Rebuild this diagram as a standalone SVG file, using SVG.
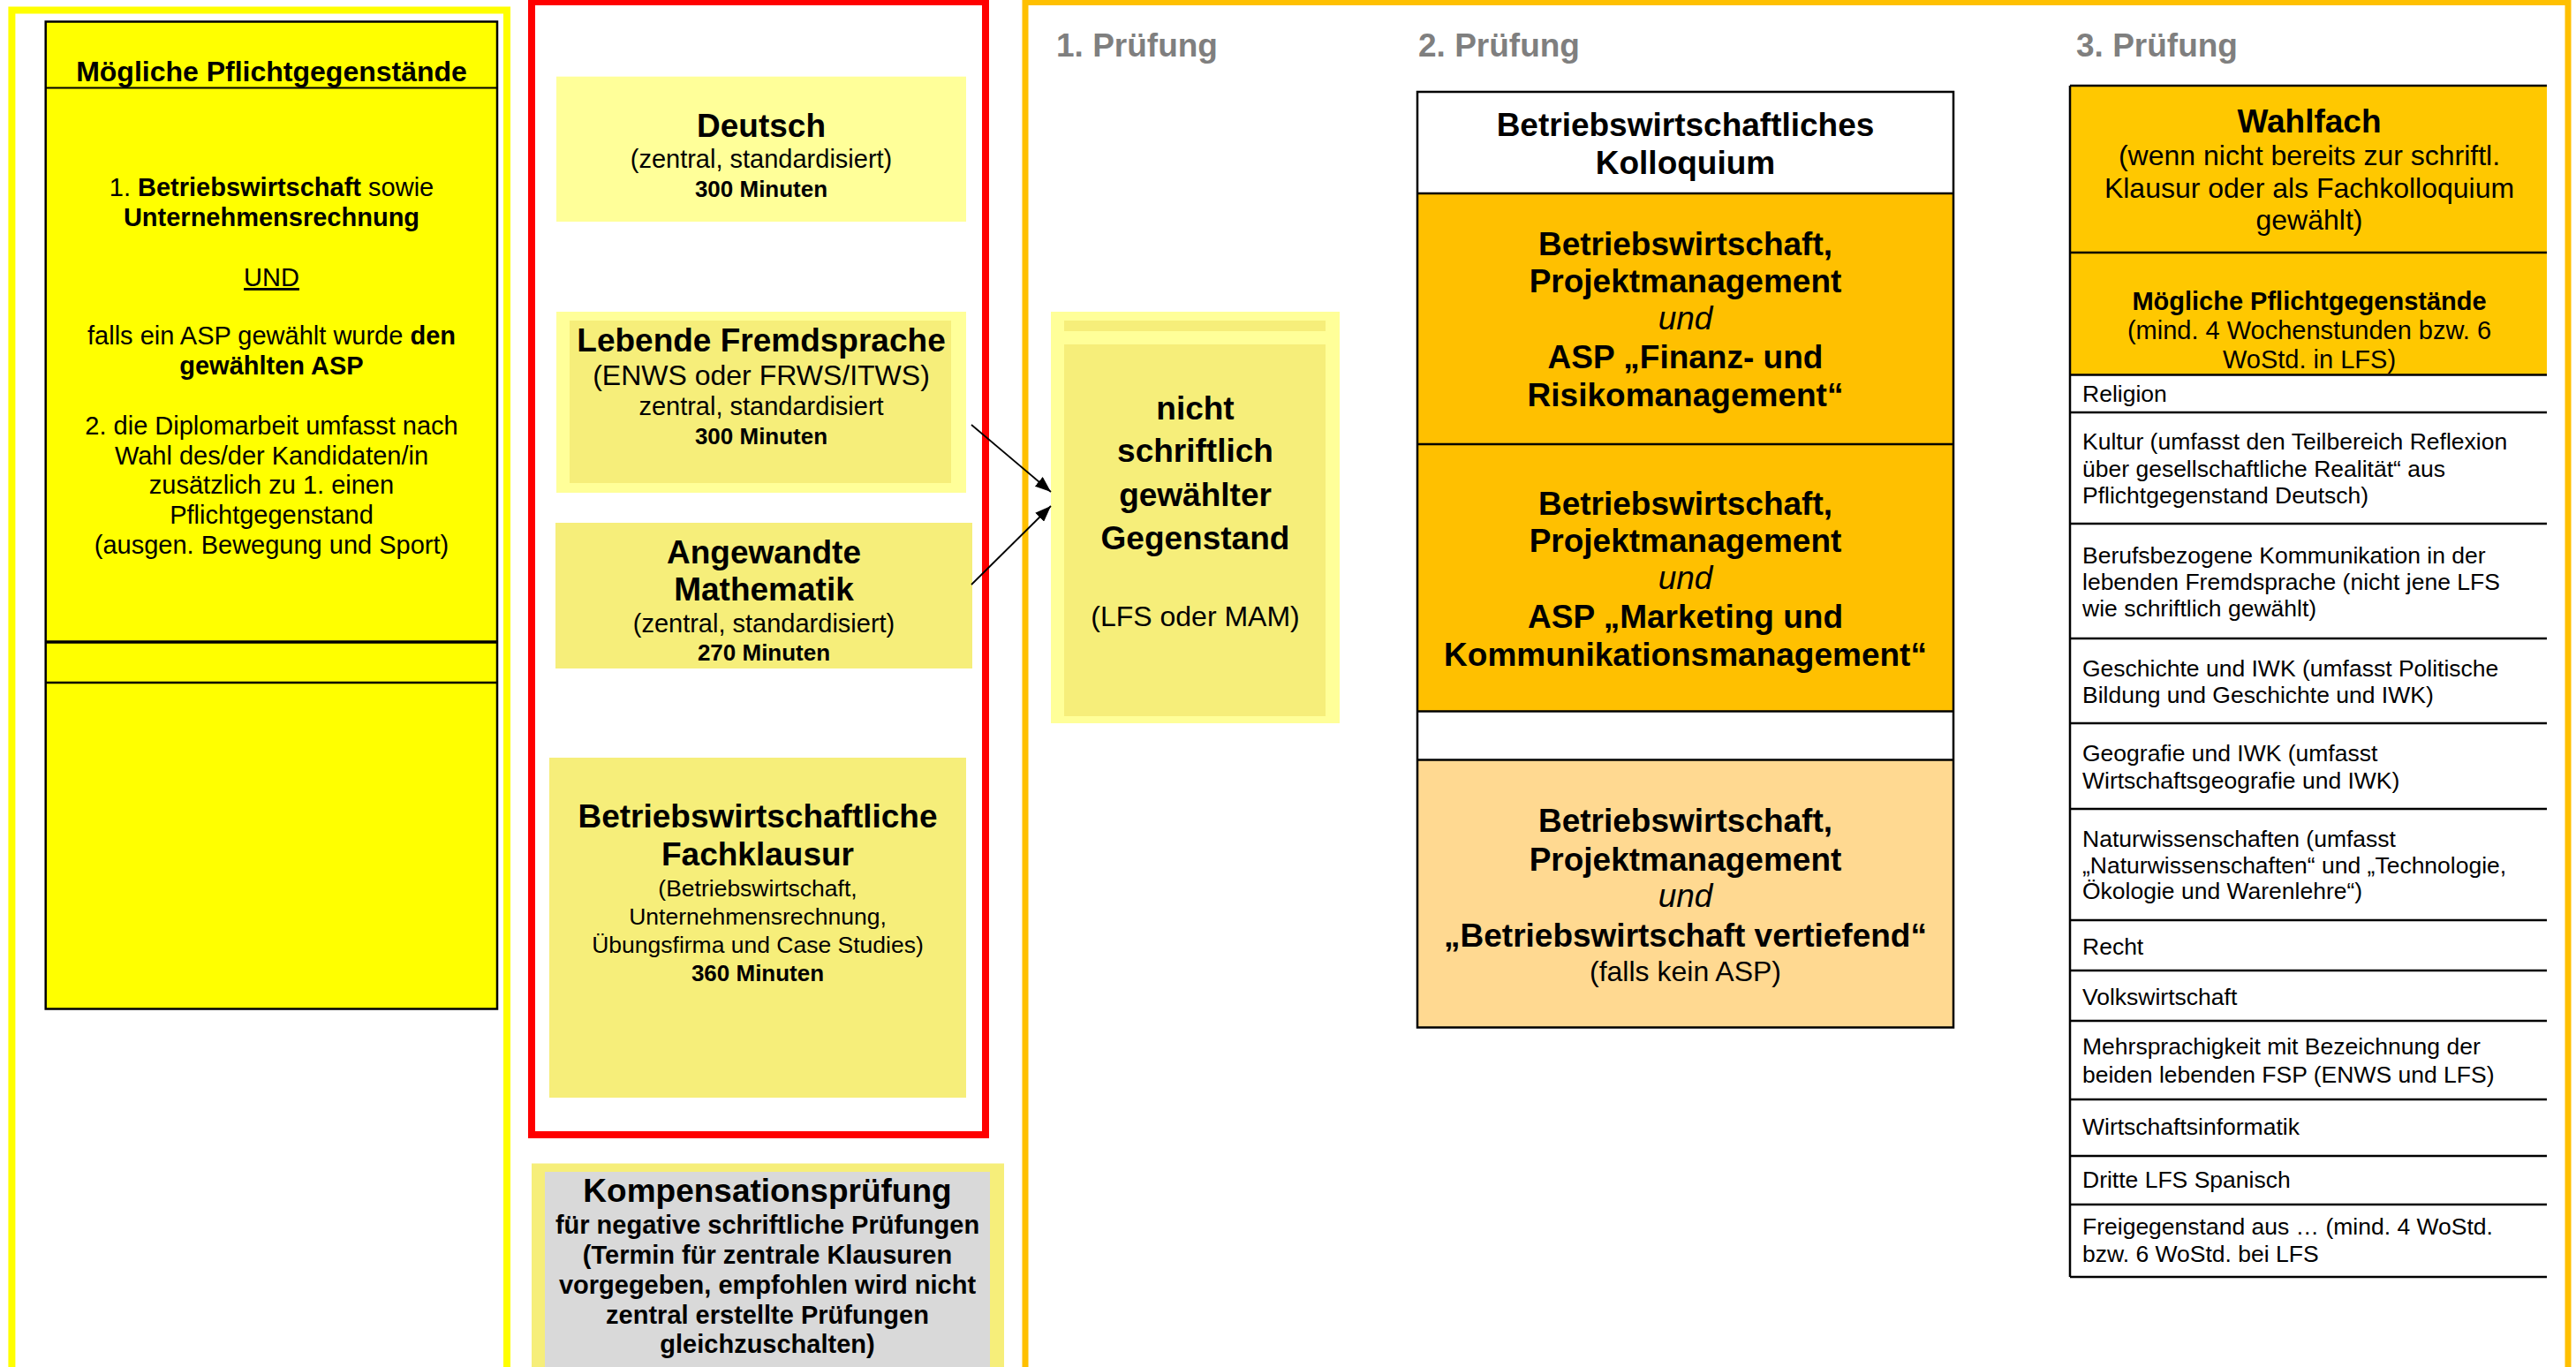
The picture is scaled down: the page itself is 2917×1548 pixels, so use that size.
<svg xmlns="http://www.w3.org/2000/svg" width="2917" height="1548" viewBox="0 0 2917 1548">
<style>
text{font-family:"Liberation Sans",Arial,sans-serif;fill:#000}
.c{text-anchor:middle}
.b{font-weight:bold}
.h{font-weight:bold;font-size:37px;fill:#7F7F7F}
.t37{font-size:37px}
.t32{font-size:32px}
.t29{font-size:29px}
.t26{font-size:26px}
.row{font-size:26.5px}
.ln{stroke:#000;stroke-width:2.5;fill:none}
.ly{fill:#FFFF99}
.my{fill:#F6EE7A}
</style>
<defs>
<marker id="ah" markerUnits="userSpaceOnUse" markerWidth="18" markerHeight="14" refX="18" refY="7" orient="auto">
<path d="M0,0 L18,7 L0,14 z" fill="#000"/>
</marker>
</defs>
<rect width="2917" height="1548" fill="#fff"/>

<g id="frames">
<rect x="13.4" y="11.5" width="560.6" height="1560" fill="none" stroke="#FFFF00" stroke-width="8"/>
<rect x="602" y="2" width="514" height="1283" fill="none" stroke="#FF0000" stroke-width="8"/>
<rect x="1161" y="2.5" width="1747" height="1570" fill="none" stroke="#FFC000" stroke-width="7"/>
</g>

<g id="pflicht-left">
<rect x="51.7" y="24.5" width="511.3" height="1118" fill="#FFFF00" stroke="#000" stroke-width="2.5"/>
<line x1="51.7" y1="99.5" x2="563" y2="99.5" stroke="#000" stroke-width="2"/>
<line x1="51.7" y1="727" x2="563" y2="727" stroke="#000" stroke-width="3.5"/>
<line x1="51.7" y1="773" x2="563" y2="773" stroke="#000" stroke-width="2.5"/>
<text x="307.5" y="92" class="c b" font-size="32">Mögliche Pflichtgegenstände</text>
<text x="307.5" y="222" class="c t29">1. <tspan class="b">Betriebswirtschaft</tspan> sowie</text>
<text x="307.5" y="255.5" class="c t29 b">Unternehmensrechnung</text>
<text x="307.5" y="324" class="c t29" text-decoration="underline">UND</text>
<text x="307.5" y="390" class="c t29">falls ein ASP gewählt wurde <tspan class="b">den</tspan></text>
<text x="307.5" y="423.5" class="c t29 b">gewählten ASP</text>
<text x="307.5" y="492" class="c t29">2. die Diplomarbeit umfasst nach</text>
<text x="307.5" y="525.5" class="c t29">Wahl des/der Kandidaten/in</text>
<text x="307.5" y="559" class="c t29">zusätzlich zu 1. einen</text>
<text x="307.5" y="592.5" class="c t29">Pflichtgegenstand</text>
<text x="307.5" y="626.5" class="c t29">(ausgen. Bewegung und Sport)</text>
</g>

<g id="deutsch">
<rect x="630" y="86.7" width="464" height="164.3" class="ly"/>
<text x="862" y="154.6" class="c b t37">Deutsch</text>
<text x="862" y="190" class="c t29">(zentral, standardisiert)</text>
<text x="862" y="223" class="c b t26">300 Minuten</text>
</g>

<g id="fremdsprache">
<rect x="630" y="353" width="464" height="205" class="ly"/>
<rect x="645" y="363" width="432" height="184" class="my"/>
<text x="862" y="398" class="c b t37">Lebende Fremdsprache</text>
<text x="862" y="436" class="c t32">(ENWS oder FRWS/ITWS)</text>
<text x="862" y="470" class="c t29">zentral, standardisiert</text>
<text x="862" y="502.5" class="c b t26">300 Minuten</text>
</g>

<g id="mathematik">
<rect x="629" y="592" width="472" height="165" class="my"/>
<text x="865" y="638" class="c b t37">Angewandte</text>
<text x="865" y="680" class="c b t37">Mathematik</text>
<text x="865" y="716" class="c t29">(zentral, standardisiert)</text>
<text x="865" y="747.5" class="c b t26">270 Minuten</text>
</g>

<g id="fachklausur">
<rect x="622" y="858" width="472" height="385" class="my"/>
<text x="858" y="937" class="c b t37">Betriebswirtschaftliche</text>
<text x="858" y="980" class="c b t37">Fachklausur</text>
<text x="858" y="1015" class="c" font-size="26.5">(Betriebswirtschaft,</text>
<text x="858" y="1047" class="c" font-size="26.5">Unternehmensrechnung,</text>
<text x="858" y="1079" class="c" font-size="26.5">Übungsfirma und Case Studies)</text>
<text x="858" y="1111" class="c b t26">360 Minuten</text>
</g>

<g id="kompensation">
<rect x="602" y="1317.5" width="535" height="240" class="my"/>
<rect x="617" y="1327" width="504" height="230" fill="#D9D9D9"/>
<text x="869" y="1361" class="c b t37">Kompensationsprüfung</text>
<text x="869" y="1397" class="c b t29">für negative schriftliche Prüfungen</text>
<text x="869" y="1431" class="c b t29">(Termin für zentrale Klausuren</text>
<text x="869" y="1465" class="c b t29">vorgegeben, empfohlen wird nicht</text>
<text x="869" y="1498.5" class="c b t29">zentral erstellte Prüfungen</text>
<text x="869" y="1532" class="c b t29">gleichzuschalten)</text>
</g>

<g id="headers">
<text x="1196" y="64" class="h">1. Prüfung</text>
<text x="1606" y="64" class="h">2. Prüfung</text>
<text x="2351" y="64" class="h">3. Prüfung</text>
</g>

<g id="nicht-schriftlich">
<rect x="1190" y="353" width="327" height="466" class="ly"/>
<rect x="1205" y="363" width="296" height="12" class="my"/>
<rect x="1205" y="390" width="296" height="421" class="my"/>
<text x="1353.5" y="475" class="c b t37">nicht</text>
<text x="1353.5" y="523" class="c b t37">schriftlich</text>
<text x="1353.5" y="573" class="c b t37">gewählter</text>
<text x="1353.5" y="622" class="c b t37">Gegenstand</text>
<text x="1353.5" y="709" class="c t32">(LFS oder MAM)</text>
</g>

<g id="connectors">
<line x1="1100" y1="481" x2="1190" y2="557" stroke="#000" stroke-width="1.8" marker-end="url(#ah)"/>
<line x1="1100" y1="662" x2="1190" y2="573" stroke="#000" stroke-width="1.8" marker-end="url(#ah)"/>
</g>

<g id="kolloquium">
<rect x="1605" y="104" width="607" height="115" fill="#fff"/>
<rect x="1605" y="219" width="607" height="586.5" fill="#FFC000"/>
<rect x="1605" y="805.5" width="607" height="55" fill="#fff"/>
<rect x="1605" y="860.5" width="607" height="303" fill="#FFD991"/>
<rect x="1605" y="104" width="607" height="1059.5" class="ln"/>
<line x1="1605" y1="219" x2="2212" y2="219" class="ln"/>
<line x1="1605" y1="503" x2="2212" y2="503" class="ln"/>
<line x1="1605" y1="805.5" x2="2212" y2="805.5" class="ln"/>
<line x1="1605" y1="860.5" x2="2212" y2="860.5" class="ln"/>
<text x="1908.5" y="154" class="c b t37">Betriebswirtschaftliches</text>
<text x="1908.5" y="197" class="c b t37">Kolloquium</text>
<text x="1908.5" y="288.5" class="c b t37">Betriebswirtschaft,</text>
<text x="1908.5" y="331" class="c b t37">Projektmanagement</text>
<text x="1908.5" y="373" class="c t37" font-style="italic">und</text>
<text x="1908.5" y="417" class="c b t37">ASP „Finanz- und</text>
<text x="1908.5" y="460" class="c b t37">Risikomanagement“</text>
<text x="1908.5" y="582.5" class="c b t37">Betriebswirtschaft,</text>
<text x="1908.5" y="625" class="c b t37">Projektmanagement</text>
<text x="1908.5" y="667" class="c t37" font-style="italic">und</text>
<text x="1908.5" y="711" class="c b t37">ASP „Marketing und</text>
<text x="1908.5" y="754" class="c b t37">Kommunikationsmanagement“</text>
<text x="1908.5" y="942" class="c b t37">Betriebswirtschaft,</text>
<text x="1908.5" y="985.5" class="c b t37">Projektmanagement</text>
<text x="1908.5" y="1027" class="c t37" font-style="italic">und</text>
<text x="1908.5" y="1072" class="c b t37">„Betriebswirtschaft vertiefend“</text>
<text x="1908.5" y="1111" class="c t32">(falls kein ASP)</text>
</g>

<g id="wahlfach">
<rect x="2344" y="97" width="540" height="327.5" fill="#FFC800"/>
<line x1="2344" y1="97" x2="2884" y2="97" class="ln"/>
<line x1="2344" y1="97" x2="2344" y2="1446" class="ln"/>
<line x1="2344" y1="286" x2="2884" y2="286" class="ln"/>
<line x1="2344" y1="424.5" x2="2884" y2="424.5" class="ln"/>
<text x="2615" y="150" class="c b t37">Wahlfach</text>
<text x="2615" y="187" class="c t32">(wenn nicht bereits zur schriftl.</text>
<text x="2615" y="224" class="c t32">Klausur oder als Fachkolloquium</text>
<text x="2615" y="260" class="c t32">gewählt)</text>
<text x="2615" y="351" class="c b t29">Mögliche Pflichtgegenstände</text>
<text x="2615" y="384" class="c t29">(mind. 4 Wochenstunden bzw. 6</text>
<text x="2615" y="417" class="c t29">WoStd. in LFS)</text>
</g>

<g id="faecher">
<line x1="2344" y1="467" x2="2884" y2="467" class="ln"/>
<line x1="2344" y1="593" x2="2884" y2="593" class="ln"/>
<line x1="2344" y1="723" x2="2884" y2="723" class="ln"/>
<line x1="2344" y1="819" x2="2884" y2="819" class="ln"/>
<line x1="2344" y1="916" x2="2884" y2="916" class="ln"/>
<line x1="2344" y1="1042" x2="2884" y2="1042" class="ln"/>
<line x1="2344" y1="1099" x2="2884" y2="1099" class="ln"/>
<line x1="2344" y1="1156" x2="2884" y2="1156" class="ln"/>
<line x1="2344" y1="1245" x2="2884" y2="1245" class="ln"/>
<line x1="2344" y1="1309" x2="2884" y2="1309" class="ln"/>
<line x1="2344" y1="1364" x2="2884" y2="1364" class="ln"/>
<line x1="2344" y1="1446" x2="2884" y2="1446" class="ln"/>
<text x="2358" y="455" class="row">Religion</text>
<text x="2358" y="509" class="row">Kultur (umfasst den Teilbereich Reflexion</text>
<text x="2358" y="539.5" class="row">über gesellschaftliche Realität“ aus</text>
<text x="2358" y="570" class="row">Pflichtgegenstand Deutsch)</text>
<text x="2358" y="638" class="row">Berufsbezogene Kommunikation in der</text>
<text x="2358" y="668" class="row">lebenden Fremdsprache (nicht jene LFS</text>
<text x="2358" y="698" class="row">wie schriftlich gewählt)</text>
<text x="2358" y="766" class="row">Geschichte und IWK (umfasst Politische</text>
<text x="2358" y="796" class="row">Bildung und Geschichte und IWK)</text>
<text x="2358" y="862" class="row">Geografie und IWK (umfasst</text>
<text x="2358" y="893" class="row">Wirtschaftsgeografie und IWK)</text>
<text x="2358" y="958.5" class="row">Naturwissenschaften (umfasst</text>
<text x="2358" y="988.5" class="row">„Naturwissenschaften“ und „Technologie,</text>
<text x="2358" y="1018" class="row">Ökologie und Warenlehre“)</text>
<text x="2358" y="1080.5" class="row">Recht</text>
<text x="2358" y="1138" class="row">Volkswirtschaft</text>
<text x="2358" y="1194" class="row">Mehrsprachigkeit mit Bezeichnung der</text>
<text x="2358" y="1226" class="row">beiden lebenden FSP (ENWS und LFS)</text>
<text x="2358" y="1285" class="row">Wirtschaftsinformatik</text>
<text x="2358" y="1345" class="row">Dritte LFS Spanisch</text>
<text x="2358" y="1398" class="row">Freigegenstand aus … (mind. 4 WoStd.</text>
<text x="2358" y="1429" class="row">bzw. 6 WoStd. bei LFS</text>
</g>
</svg>
